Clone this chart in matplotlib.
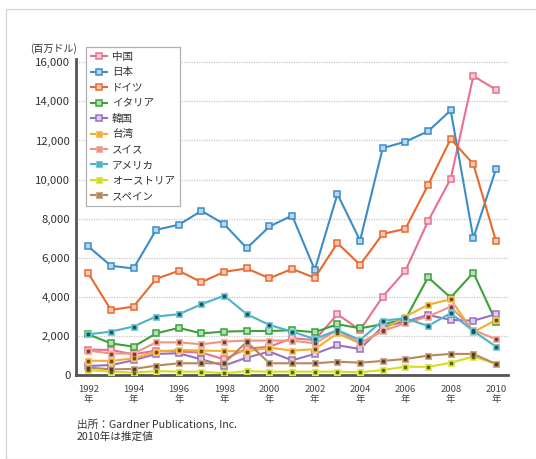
import matplotlib
matplotlib.use("Agg")
import matplotlib.pyplot as plt
from matplotlib.colors import to_rgb
from matplotlib.patches import Rectangle

plt.rcParams["font.family"] = ["Noto Sans CJK JP", "DejaVu Sans"]

W, H = 536, 459

years = list(range(1992, 2011))

china = [1300, 1280, 1060, 1250, 1200, 1150, 800, 1350, 1450, 1880, 1790, 3110, 2300, 4010, 5330, 7870, 10040, 15300, 14600]
japan = [6580, 5590, 5450, 7430, 7690, 8400, 7720, 6490, 7600, 8160, 5380, 9260, 6880, 11610, 11940, 12470, 13540, 7000, 10540]
germany = [5210, 3330, 3500, 4920, 5330, 4750, 5280, 5450, 4950, 5430, 4970, 6750, 5640, 7220, 7480, 9720, 12080, 10790, 6850]
italy = [2080, 1620, 1450, 2130, 2410, 2130, 2220, 2250, 2250, 2290, 2190, 2600, 2390, 2600, 2850, 5000, 3960, 5240, 2730]
korea = [460, 510, 750, 1080, 1110, 800, 480, 890, 1200, 750, 1080, 1520, 1330, 2480, 2730, 3070, 2820, 2780, 3110]
taiwan = [730, 720, 850, 1200, 1280, 1250, 1230, 1200, 1400, 1250, 1320, 2130, 1620, 2300, 2990, 3590, 3880, 2190, 2820]
swiss = [1250, 1100, 1100, 1670, 1670, 1570, 1710, 1760, 1760, 1760, 1620, 2300, 1620, 2250, 2650, 2990, 3500, 2300, 1830]
usa = [2080, 2220, 2480, 2990, 3110, 3620, 4060, 3110, 2560, 2220, 1840, 2300, 1790, 2780, 2900, 2510, 3160, 2250, 1450]
austria = [250, 170, 120, 200, 170, 170, 90, 200, 170, 170, 170, 170, 140, 250, 430, 410, 630, 940, 580]
spain = [380, 290, 310, 480, 600, 600, 600, 1700, 600, 600, 600, 680, 630, 720, 820, 990, 1080, 1080, 560]

names = ["中国", "日本", "ドイツ", "イタリア", "韓国", "台湾", "スイス", "アメリカ", "オーストリア", "スペイン"]
series = [china, japan, germany, italy, korea, taiwan, swiss, usa, austria, spain]
colors = ["#E8708F", "#3A8DC8", "#E8692E", "#3AA23A", "#9A70C0",
          "#F2AE2E", "#EE9485", "#4AB3C6", "#D4DC1E", "#B8875C"]
# first five use open squares, the rest filled squares with a dark centre
dotted_centre = [False] * 5 + [True] * 5

yticks = list(range(0, 16001, 2000))
xticks = list(range(1992, 2011, 2))


def lighten(c, amt=0.65):
    r, g, b = to_rgb(c)
    return (r + (1 - r) * amt, g + (1 - g) * amt, b + (1 - b) * amt)


def darken(c, amt=0.45):
    r, g, b = to_rgb(c)
    return (r * amt, g * amt, b * amt)


fig = plt.figure(figsize=(W / 100, H / 100), dpi=100, facecolor="white")
fig.patches.append(Rectangle((6 / W, 0), 1.0, 1 - 9 / H, transform=fig.transFigure,
                             fill=False, edgecolor="#D4D4D4", linewidth=0.9))

ax = fig.add_axes([76 / W, (H - 375) / H, (508 - 76) / W, (375 - 59) / H])
ax.set_facecolor("none")

handles = []
for name, vals, col, dot in zip(names, series, colors, dotted_centre):
    if dot:
        ln, = ax.plot(years, vals, color=col, linewidth=1.5, marker="s", markersize=4.6,
                      markerfacecolor=col, markeredgecolor=lighten(col, 0.3),
                      markeredgewidth=0.8, label=name, zorder=3)
        ax.plot(years, vals, linestyle="none", marker="s", markersize=1.6,
                color=darken(col), zorder=4)
    else:
        ln, = ax.plot(years, vals, color=col, linewidth=1.5, marker="s", markersize=4.8,
                      markerfacecolor=lighten(col), markeredgecolor=col,
                      markeredgewidth=1.1, label=name, zorder=3)
    handles.append(ln)

ax.set_xlim(1991.46, 2010.53)
ax.set_ylim(0, 16170)
ax.set_yticks(yticks)
ax.set_yticklabels([f"{v:,}" for v in yticks], fontsize=8.2, color="#333333")
ax.set_xticks(xticks)
ax.set_xticklabels([f"{y}\n年" for y in xticks], fontsize=6.8, color="#444444", linespacing=1.15)
ax.tick_params(axis="both", length=0)
ax.tick_params(axis="y", pad=4)
ax.tick_params(axis="x", pad=7)

ax.grid(axis="y", color="#C8C8C8", linestyle=(0, (1, 1)), linewidth=0.9)
ax.set_axisbelow(True)
for s in ["top", "right"]:
    ax.spines[s].set_visible(False)
for s in ["left", "bottom"]:
    ax.spines[s].set_color("#555555")
    ax.spines[s].set_linewidth(2.0)

fig.text(30 / W, 1 - 49 / H, "(百万ドル)", fontsize=7.2, color="#333333", va="center", ha="left")

leg = ax.legend(handles=handles, loc="upper left", bbox_to_anchor=(86 / W, 1 - 47 / H),
                bbox_transform=fig.transFigure, borderaxespad=0, fontsize=7.6,
                handlelength=1.5, handletextpad=0.5, labelspacing=0.52, borderpad=0.45,
                fancybox=False, framealpha=1, edgecolor="#B0B0B0")
leg.get_frame().set_linewidth(0.9)
for t in leg.get_texts():
    t.set_color("#333333")

fig.text(77 / W, 1 - 424 / H, "出所：Gardner Publications, Inc.", fontsize=7.7,
         color="#333333", va="center", ha="left")
fig.text(77 / W, 1 - 437 / H, "2010年は推定値", fontsize=7.7,
         color="#333333", va="center", ha="left")

fig.savefig("out.png", dpi=100, facecolor="white")
